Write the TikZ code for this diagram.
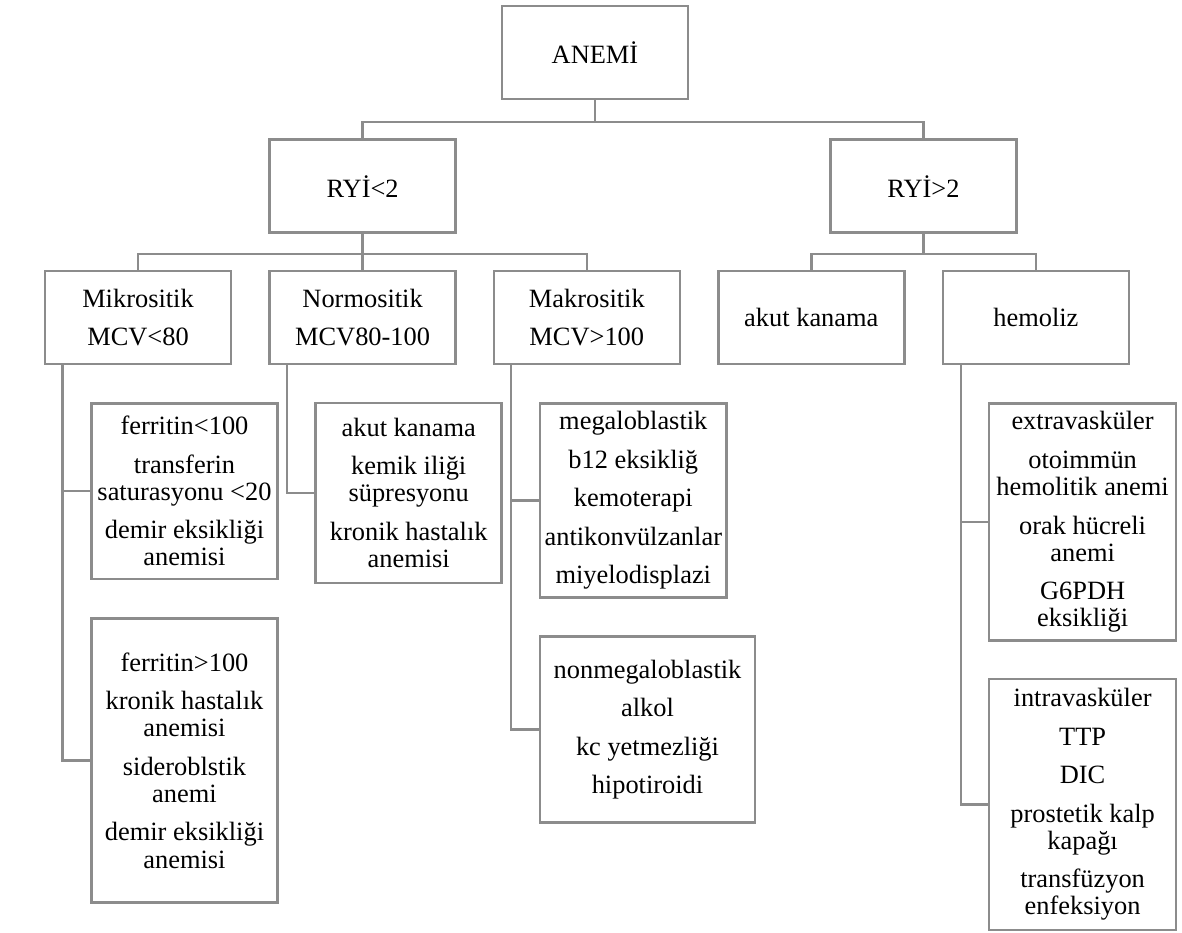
\documentclass[tikz,border=0pt]{standalone}
\usepackage{fontspec}
\setmainfont{Liberation Serif}
\usepackage{tikz}
\definecolor{linegray}{RGB}{140,140,140}
\newcommand{\psep}{\\[5.2pt]}

\begin{document}
\begin{tikzpicture}[x=0.4545pt, y=-0.4545pt,
  font=\fontsize{12}{12.3}\selectfont,
  topbox/.style = {shape=rectangle, draw=linegray, line width=1.15pt,
    align=center, inner sep=0pt,
    minimum width=84.5pt, minimum height=42.3pt},
  leafbox/.style = {topbox},
  link/.style = {draw=linegray, line width=1.15pt}]
  \useasboundingbox (0,0) rectangle (1182,933);
  % first levels
  \node[topbox] (anemi) at (595,52.4) {ANEMİ};
  \node[topbox] (ryiA) at (362.6,186.2) {RYİ<2};
  \node[topbox] (ryiB) at (923.4,186.2) {RYİ>2};
  \node[topbox] (mikro) at (138,317.5) {Mikrositik\psep MCV<80};
  \node[topbox] (normo) at (362.6,317.5) {Normositik\psep MCV80-100};
  \node[topbox] (makro) at (586.8,317.5) {Makrositik\psep MCV>100};
  \node[topbox] (akut) at (811.3,317.5) {akut kanama};
  \node[topbox] (hemo) at (1035.9,317.5) {hemoliz};
  % lists
  \node[leafbox, minimum height=79.9pt] (ferA) at (184.5,491.2)
    {ferritin<100\psep transferin\\saturasyonu <20\psep demir eksikliği\\anemisi};
  \node[leafbox, minimum height=129.3pt] (ferB) at (184.5,760.5)
    {ferritin>100\psep kronik hastalık\\anemisi\psep sideroblstik\\anemi\psep
     demir eksikliği\\anemisi};
  \node[leafbox, minimum height=81.7pt] (normL) at (408.7,492.9)
    {akut kanama\psep kemik iliği\\süpresyonu\psep kronik hastalık\\anemisi};
  \node[leafbox, minimum width=84.9pt, minimum height=88.2pt] (megaL) at (633.3,500.3)
    {megaloblastik\psep b12 eksikliğ\psep kemoterapi\psep antikonvülzanlar\psep
     miyelodisplazi};
  \node[leafbox, minimum width=97.7pt, minimum height=84.5pt] (nonmegaL) at (647.5,729.7)
    {nonmegaloblastik\psep alkol\psep kc yetmezliği\psep hipotiroidi};
  \node[leafbox, minimum width=84.9pt, minimum height=107.9pt] (extraL) at (1082.6,522)
    {extravasküler\psep otoimmün\\hemolitik anemi\psep orak hücreli\\anemi\psep
     G6PDH\\eksikliği};
  \node[leafbox, minimum width=84.9pt, minimum height=114.1pt] (intraL) at (1082.6,804.5)
    {intravasküler\psep TTP\psep DIC\psep prostetik kalp\\kapağı\psep
     transfüzyon\\enfeksiyon};
  % forks
  \draw[link] (anemi.south) -- ++(0,21.7) -| (ryiA.north);
  \draw[link] (anemi.south) -- ++(0,21.7) -| (ryiB.north);
  \draw[link] (ryiA.south) -- ++(0,20) -| (mikro.north);
  \draw[link] (ryiA.south) -- (normo.north);
  \draw[link] (ryiA.south) -- ++(0,20) -| (makro.north);
  \draw[link] (ryiB.south) -- ++(0,20) -| (akut.north);
  \draw[link] (ryiB.south) -- ++(0,20) -| (hemo.north);
  % side stems
  \draw[link] ([xshift=8.6pt]mikro.south west) |- (ferA.west);
  \draw[link] ([xshift=8.6pt]mikro.south west) |- (ferB.west);
  \draw[link] ([xshift=8.4pt]normo.south west) |- (normL.west);
  \draw[link] ([xshift=8.4pt]makro.south west) |- (megaL.west);
  \draw[link] ([xshift=8.4pt]makro.south west) |- (nonmegaL.west);
  \draw[link] ([xshift=8.8pt]hemo.south west) |- (extraL.west);
  \draw[link] ([xshift=8.8pt]hemo.south west) |- (intraL.west);
\end{tikzpicture}
\end{document}
